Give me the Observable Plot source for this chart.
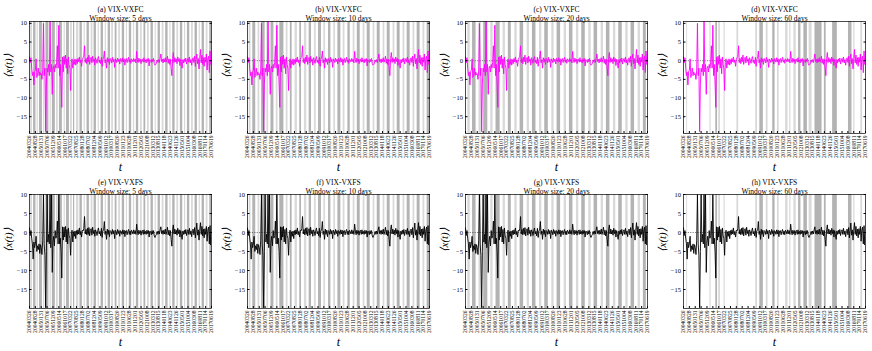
<!DOCTYPE html>
<html><head><meta charset="utf-8">
<script src="https://cdn.jsdelivr.net/npm/d3@7"></script>
<script src="https://cdn.jsdelivr.net/npm/@observablehq/plot@0.6"></script>
<style>
body{margin:0;background:#fff;}
#wrap{position:relative;width:872px;height:351px;overflow:hidden;}
.p{position:absolute;}
.p svg{font-family:"Liberation Serif","DejaVu Serif",serif;color:#000;}
</style>
</head><body><div id="wrap"></div>
<script>
// x tick labels (tick positions 0..31 in the plot's x units)
const dateTicks = ["20040326","20040828","20050131","20050706","20051209","20060514","20061017","20070322","20070825","20080128","20080702","20081204","20090509","20091012","20100317","20100820","20110123","20110628","20111201","20120505","20121008","20130312","20130815","20140118","20140623","20141126","20150501","20151004","20160308","20160811","20170114","20170619"];
const yTicks = [-15,-10,-5,0,5,10];
const sampleStep = 0.125; // spacing of the read-off samples, in tick units

// VIX-VXFC series
const vxfc = [1,-0.5,0.8,-2,-4,-3,-6.5,-3,
-2.5,0.5,-4.5,-3.5,-2,-4,-3,-3.8,
-3.5,-5,-2.5,10,-4,-2,-19,-6,
-2,-3,-1,-4,10.5,-3,-1,-9,
-2,-1.5,-3,-1,-2,-0.5,4,-2,
9.5,-4,-1,-6,-12.5,1,-3,1.2,
-1,1.5,-2,0.5,-3.5,1,-1,-2,
-8,-0.5,0.5,-2,0,-1,0.5,-1.2,
0.3,-0.8,0.6,-0.3,1,-0.5,0.2,-1.5,
0.4,0.8,1.2,4,-0.5,0.6,-0.8,0.9,
-0.3,1.5,-1,0.4,0.9,-0.6,1.2,-0.2,
0.5,-1.2,0.8,0.1,-0.7,0.6,1.1,-0.5,
0.2,-0.8,0.9,-1.5,0.4,0.7,2.6,-0.6,
0.3,-2,0.8,-0.4,0.5,-1,0.6,0.2,
-0.6,0.9,-0.3,0.4,-1.8,0.5,0.1,-0.5,
0.7,-0.2,0.4,-0.9,0.6,0.2,-0.4,0.8,
-0.3,0.5,-1.2,0.3,0.6,-0.5,0.2,0.9,
-0.4,0.3,-0.7,0.5,0.1,-0.3,0.6,-0.2,
0.4,-0.6,2.5,0.3,-0.5,0.7,-0.2,0.4,
-0.8,0.3,0.5,-0.4,0.8,-0.3,0.2,-0.6,
0.5,-0.2,0.6,-1.4,0.3,0.1,-0.5,0.4,
-0.3,0.6,-0.8,-1.2,-1,-0.6,0.2,-0.4,
0.3,-0.5,0.6,1.8,-0.2,0.4,-0.6,0.5,
-0.3,0.8,-0.4,0.2,1.2,-0.7,0.5,-1,
0.4,-2,-4,0.6,2.2,-0.5,0.8,-0.3,
0.5,-0.8,1,-0.2,0.6,-1.3,0.4,-0.5,
-2,0.3,-0.6,0.5,-0.3,0.7,-0.9,0.2,
0.6,-0.4,1,-0.6,0.3,-1.2,0.5,0.8,
-0.5,1.2,-1.5,0.4,1.8,-0.8,0.6,-2.2,
0.5,3,-0.6,1.5,-1,0.8,-1.5,0.9,
-0.4,1.8,-2.5,0.6,1.2,-3.2,2.6,-1,0.5];

// VIX-VXFS series
const vxfs = [1.2,-0.8,0.5,-1.5,-3,-7,-2.5,-4,
-3,-1,-5,-3.5,-4.5,-3,-5.5,-3.2,
-4,-5.8,-2,10,-3,-6,-19.8,-5,
10,-2.5,-0.5,-3,10,-4,10,-10.5,
-2.5,-1,-3.5,0.5,-1.5,-0.8,3,-3,
10,-3,-1.5,-5,-12,1.5,-2,1.4,
-1.2,1.6,-2.5,0.8,-3,1.2,-0.8,-1.5,
-6,-0.4,0.6,-2.5,0.2,-1,0.4,-1.6,
0.5,-0.6,0.7,-0.4,1.2,-0.6,0.3,-1.2,
0.6,0.4,1,4.2,-0.4,0.8,-0.6,1.1,
-0.5,1.3,-0.9,0.6,1,-0.7,1.4,-0.3,
0.6,-1,0.7,0.2,-0.8,0.5,1.2,-0.4,
0.3,-0.9,1.1,-1.3,0.5,0.6,2.9,-0.5,
0.4,-1.8,0.9,-0.5,0.6,-1.1,0.5,0.3,
-0.5,0.8,-0.4,0.5,-1.6,0.6,0.2,-0.6,
0.8,-0.3,0.5,-1,0.5,0.3,-0.5,0.7,
-0.4,0.6,-1.1,0.4,0.5,-0.6,0.3,0.8,
-0.5,0.4,-0.6,0.6,0.2,-0.4,0.7,-0.3,
0.5,-0.5,2.2,0.4,-0.6,0.6,-0.3,0.5,
-0.7,0.4,0.6,-0.5,0.7,-0.4,0.3,-0.5,
0.6,-0.3,0.5,-1.2,0.4,0.2,-0.6,0.5,
-0.4,0.5,-0.9,-1.3,-0.8,-0.5,0.3,-0.5,
0.4,-0.4,0.7,1.5,-0.3,0.5,-0.5,0.6,
-0.4,0.9,-0.5,0.3,1.4,-0.6,0.6,-0.9,
0.5,-1.8,-3.6,0.7,2,-0.4,0.9,-0.4,
0.6,-0.7,1.1,-0.3,0.7,-1.2,0.5,-0.6,
-1.8,0.4,-0.5,0.6,-0.4,0.8,-0.8,0.3,
0.7,-0.5,1.1,-0.5,0.4,-1.1,0.6,0.9,
-0.6,1.3,-1.4,0.5,2.5,-0.7,0.7,-2,
0.6,2.6,-0.5,1.6,-0.9,0.9,-1.4,1,
-0.5,1.6,-2.3,0.7,1.4,-3,1.8,-3.3,0.4];

// shaded regimes: [start, end, kind] in tick units (kind 0 light, 1 dark)
const bands5 = [[0.2,0.5,0],[0.7,1.1,1],[1.3,1.5,0],[1.7,2.2,1],[2.4,2.6,0],[2.8,3.3,1],[3.5,3.7,0],[3.9,4.4,1],[4.6,4.9,0],[5.1,5.6,1],[5.9,6.1,0],[6.3,6.8,1],[7.0,7.3,0],[7.5,7.7,1],[8.0,8.4,0],[8.6,9.0,1],[9.3,9.5,0],[9.8,10.2,1],[10.5,10.8,0],[11.0,11.4,1],[11.7,11.9,0],[12.2,12.6,1],[12.9,13.1,0],[13.4,13.8,1],[14.0,14.3,0],[14.6,14.9,1],[15.2,15.5,0],[15.8,16.2,1],[16.5,16.7,0],[17.0,17.4,1],[17.7,17.9,0],[18.2,18.6,1],[18.9,19.2,0],[19.5,19.8,1],[20.1,20.4,0],[20.7,21.1,1],[21.4,21.6,0],[21.9,22.3,1],[22.6,22.9,0],[23.2,23.6,1],[23.9,24.1,0],[24.4,24.8,1],[25.1,25.4,0],[25.7,26.1,1],[26.4,26.6,0],[26.9,27.3,1],[27.6,27.9,0],[28.2,28.6,1],[28.9,29.1,0],[29.4,29.8,1],[30.1,30.4,0],[30.7,31,1]];
const bands10 = [[0.3,0.6,0],[0.9,1.4,1],[1.8,2.1,0],[2.4,3.0,1],[3.3,3.6,0],[4.0,4.5,1],[4.9,5.2,0],[5.5,6.2,1],[6.6,6.9,0],[7.3,7.6,1],[8.1,8.5,0],[8.9,9.2,1],[9.7,10.1,0],[10.5,10.9,1],[11.4,11.7,0],[12.1,12.6,1],[13.0,13.3,0],[13.8,14.2,1],[14.7,15.0,0],[15.4,15.9,1],[16.3,16.6,0],[17.1,17.5,1],[18.0,18.3,0],[18.7,19.2,1],[19.7,20.0,0],[20.4,20.9,1],[21.4,21.7,0],[22.1,22.6,1],[23.1,23.4,0],[23.8,24.3,1],[24.8,25.1,0],[25.5,26.0,1],[26.5,26.8,0],[27.2,27.7,1],[28.2,28.5,0],[28.9,29.4,1],[29.9,30.2,0],[30.6,31,1]];
const bands20 = [[0.4,0.8,0],[1.2,1.8,1],[2.3,2.7,0],[3.1,3.8,1],[4.3,4.7,0],[5.2,5.9,1],[6.4,6.8,0],[7.3,7.8,1],[8.4,8.8,0],[9.3,9.9,1],[10.5,10.9,0],[11.4,12.0,1],[12.6,13.0,0],[13.5,14.1,1],[14.7,15.1,0],[15.6,16.2,1],[16.8,17.2,0],[17.7,18.3,1],[18.9,19.3,0],[19.8,20.4,1],[21.0,21.4,0],[21.9,22.5,1],[23.1,23.5,0],[24.0,24.6,1],[25.2,25.6,0],[26.1,26.7,1],[27.3,27.7,0],[28.2,28.8,1],[29.4,29.8,0],[30.3,30.8,1]];
const bands60 = [[0.55,0.7,0],[4.5,4.7,0],[5.5,5.8,1],[6.0,6.3,0],[6.9,7.1,0],[9.1,9.4,0],[12.3,12.6,0],[13.0,13.6,1],[14.1,14.4,0],[15.2,15.6,1],[16.0,16.3,0],[17.4,17.8,0],[18.1,18.3,0],[18.8,19.2,0],[19.6,20.0,1],[20.5,21.1,1],[21.4,21.9,0],[22.4,23.6,1],[24.0,24.3,1],[25.4,26.2,1],[28.1,28.7,1],[29.0,29.2,0],[30.2,30.5,0]];

const panels = [
  {tag:"(a) VIX-VXFC", win:5,  series:vxfc, color:"#ff00ff", bands:bands5,  row:0, col:0},
  {tag:"(b) VIX-VXFC", win:10, series:vxfc, color:"#ff00ff", bands:bands10, row:0, col:1},
  {tag:"(c) VIX-VXFC", win:20, series:vxfc, color:"#ff00ff", bands:bands20, row:0, col:2},
  {tag:"(d) VIX-VXFC", win:60, series:vxfc, color:"#ff00ff", bands:bands60, row:0, col:3},
  {tag:"(e) VIX-VXFS", win:5,  series:vxfs, color:"#000000", bands:bands5,  row:1, col:0},
  {tag:"(f) VIX-VXFS", win:10, series:vxfs, color:"#000000", bands:bands10, row:1, col:1},
  {tag:"(g) VIX-VXFS", win:20, series:vxfs, color:"#000000", bands:bands20, row:1, col:2},
  {tag:"(h) VIX-VXFS", win:60, series:vxfs, color:"#000000", bands:bands60, row:1, col:3}
];

const wrap = document.getElementById("wrap");
for (const p of panels) {
  const pts = p.series.map((v, i) => ({x: i * sampleStep, y: v}));
  const bands = p.bands.map(([s, e, k]) => ({s, e, k}));
  const yDom = p.row === 0 ? [-19.5, 10.5] : [-20, 10];
  const chart = Plot.plot({
    width: 218,
    height: 176,
    marginLeft: 29,
    marginRight: 7,
    marginTop: p.row === 0 ? 21 : 19,
    marginBottom: 43,
    style: {fontFamily: "Liberation Serif, serif", fontSize: "6px", background: "transparent", color: "#000"},
    x: {domain: [0, 31]},
    y: {domain: yDom},
    color: {domain: [0, 1], range: ["#d9d9d9", "#b3b3b3"]},
    marks: [
      Plot.rect(bands, {x1: "s", x2: "e", fill: d => d.k, stroke: null}),
      Plot.ruleY([0], {stroke: "#333", strokeWidth: 0.6, strokeDasharray: "1.2,1.2"}),
      Plot.line(pts, {x: "x", y: "y", stroke: p.color, strokeWidth: 0.9, clip: true}),
      Plot.frame({stroke: "#000", strokeWidth: 0.7}),
      Plot.axisY(yTicks, {anchor: "left", tickSize: -2.5, tickPadding: 5, fontSize: 6.5, label: null, fill: "#000", stroke: "#000"}),
      Plot.axisY(yTicks, {anchor: "right", tickSize: -2.5, tickFormat: () => "", label: null, stroke: "#000"}),
      Plot.axisX(d3.range(32), {anchor: "bottom", tickSize: -2, tickPadding: 4, tickRotate: -90, fontSize: 5.6, tickFormat: i => dateTicks[i], label: null, fill: "#000", stroke: "#000"}),
      Plot.text([p.tag], {frameAnchor: "top", dy: -15, fontSize: 7.5, fill: "#000", text: d => d}),
      Plot.text(["Window size: " + p.win + " days"], {frameAnchor: "top", dy: -6, fontSize: 7.5, fill: "#000", text: d => d}),
      Plot.text(["t"], {frameAnchor: "bottom", dy: 37, fontSize: 12, fontStyle: "italic", fill: "#000", text: d => d}),
      Plot.text(["\u27E8x(t)\u27E9"], {frameAnchor: "left", dx: -21, fontSize: 11, fontStyle: "italic", rotate: -90, fill: "#000", text: d => d})
    ]
  });
  const div = document.createElement("div");
  div.className = "p";
  div.style.left = (p.col * 218) + "px";
  div.style.top = (p.row * 175) + "px";
  div.appendChild(chart);
  wrap.appendChild(div);
}
</script>
</body></html>
